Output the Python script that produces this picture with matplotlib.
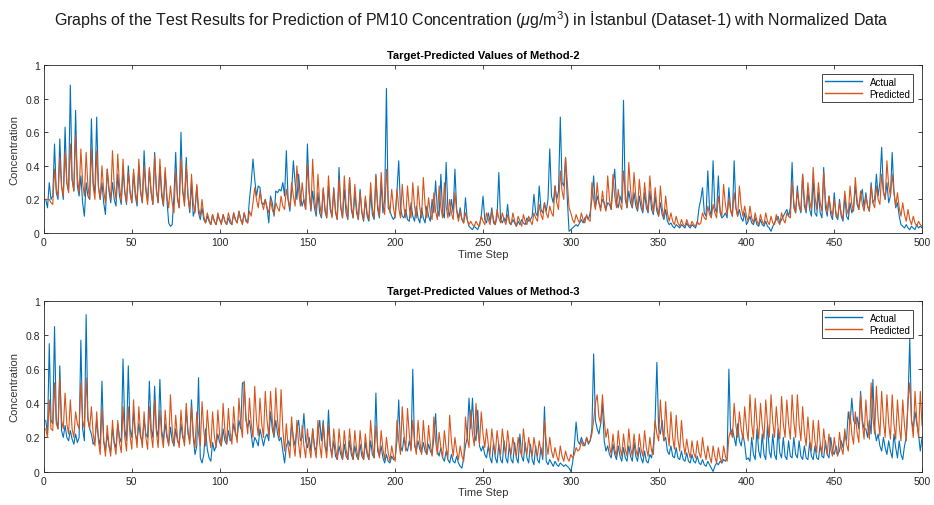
#import libraries

import numpy as np
import matplotlib
matplotlib.use('Agg')
import matplotlib.pyplot as plt

plt.rcParams['font.family'] = ['Liberation Sans', 'DejaVu Sans']
plt.rcParams['mathtext.fontset'] = 'custom'
plt.rcParams['mathtext.rm'] = 'Liberation Sans'
plt.rcParams['mathtext.it'] = 'Liberation Sans:italic'

#data (normalized concentration, in hundredths)

actual_m2 = np.array([
    20, 15, 30, 20, 22, 53, 24, 20, 56, 28, 20, 63, 30, 25, 88, 32, 25, 73, 28, 22, 34, 18, 10, 30, 22, 20, 68, 30, 24, 69,
    28, 20, 30, 18, 11, 38, 25, 18, 30, 20, 16, 35, 22, 17, 38, 24, 17, 40, 25, 18, 36, 22, 16, 40, 24, 18, 49, 27, 19, 38,
    24, 17, 48, 25, 18, 40, 22, 16, 36, 20, 6, 4, 5, 22, 48, 20, 15, 60, 25, 18, 45, 22, 12, 30, 10, 14, 28, 12, 8, 15,
    8, 6, 10, 7, 5, 11, 7, 5, 10, 8, 6, 11, 7, 5, 9, 6, 5, 12, 8, 6, 13, 8, 6, 12, 7, 6, 20, 30, 44, 32,
    22, 28, 27, 18, 17, 20, 15, 6, 22, 18, 10, 25, 24, 26, 25, 30, 22, 49, 20, 13, 25, 43, 30, 20, 35, 22, 16, 20, 14, 53,
    25, 13, 25, 15, 10, 24, 12, 9, 26, 13, 9, 28, 14, 10, 27, 12, 8, 39, 15, 9, 26, 12, 8, 33, 14, 9, 24, 12, 8, 26,
    12, 7, 20, 10, 7, 24, 11, 8, 35, 14, 9, 30, 12, 20, 86, 15, 13, 10, 8, 10, 25, 43, 15, 10, 9, 14, 8, 7, 18, 10,
    7, 16, 9, 6, 15, 9, 6, 16, 10, 7, 20, 12, 31, 14, 10, 35, 12, 9, 42, 14, 10, 20, 12, 38, 14, 9, 15, 8, 6, 21,
    8, 4, 3, 2, 4, 3, 2, 5, 10, 22, 8, 6, 12, 7, 15, 6, 5, 10, 36, 8, 6, 9, 7, 17, 6, 5, 8, 6, 4, 7,
    5, 8, 6, 5, 9, 7, 8, 10, 23, 12, 10, 28, 14, 12, 18, 13, 20, 50, 22, 18, 28, 20, 25, 69, 30, 28, 45, 20, 1, 2,
    3, 4, 5, 4, 6, 8, 6, 9, 10, 8, 12, 20, 34, 15, 22, 18, 15, 20, 18, 14, 18, 17, 14, 28, 38, 18, 15, 22, 18, 79,
    20, 15, 25, 18, 15, 24, 16, 13, 22, 15, 12, 24, 15, 12, 25, 14, 11, 22, 13, 10, 18, 11, 8, 14, 7, 5, 6, 4, 3, 5,
    4, 3, 5, 4, 3, 6, 4, 3, 5, 4, 3, 6, 15, 20, 27, 12, 10, 37, 14, 10, 43, 15, 12, 34, 12, 9, 10, 12, 9, 27,
    14, 10, 43, 15, 10, 14, 9, 7, 12, 5, 7, 10, 6, 5, 9, 5, 4, 8, 5, 4, 7, 4, 3, 1, 4, 6, 8, 10, 6, 8,
    10, 12, 14, 10, 15, 42, 15, 12, 28, 16, 12, 35, 16, 12, 25, 14, 10, 32, 12, 10, 24, 12, 9, 39, 15, 10, 22, 11, 8, 24,
    10, 8, 20, 10, 7, 22, 10, 8, 18, 12, 15, 28, 17, 14, 22, 26, 15, 24, 16, 13, 30, 18, 20, 35, 22, 30, 51, 25, 20, 30,
    18, 22, 48, 25, 15, 18, 10, 5, 4, 3, 5, 3, 2, 4, 3, 2, 5, 3, 4, 3,
]) / 100

predicted_m2 = np.array([
    20, 20, 20, 18, 17, 38, 26, 22, 45, 28, 22, 48, 30, 24, 53, 32, 25, 58, 33, 24, 50, 30, 22, 48, 28, 20, 50, 28, 20, 49,
    27, 20, 40, 25, 18, 38, 27, 20, 49, 28, 20, 47, 28, 19, 44, 25, 18, 36, 24, 18, 38, 25, 18, 44, 26, 18, 40, 25, 17, 39,
    25, 17, 46, 27, 18, 44, 25, 17, 39, 22, 15, 28, 18, 12, 37, 22, 15, 44, 25, 16, 40, 22, 14, 35, 18, 12, 29, 15, 10, 20,
    10, 6, 12, 8, 5, 11, 7, 5, 12, 8, 5, 11, 7, 5, 12, 8, 5, 12, 8, 6, 13, 8, 5, 12, 8, 6, 13, 10, 18, 27,
    20, 15, 25, 18, 14, 20, 15, 12, 20, 14, 11, 18, 15, 13, 22, 16, 14, 26, 20, 15, 30, 22, 16, 40, 25, 16, 30, 20, 14, 41,
    24, 14, 44, 22, 12, 35, 18, 10, 27, 15, 9, 34, 17, 9, 26, 14, 8, 32, 16, 9, 34, 17, 9, 33, 17, 9, 29, 15, 8, 24,
    13, 8, 22, 12, 8, 30, 15, 9, 34, 17, 10, 36, 18, 11, 38, 20, 12, 26, 15, 9, 26, 15, 9, 29, 15, 9, 28, 15, 9, 30,
    16, 9, 28, 15, 9, 33, 17, 9, 21, 12, 8, 24, 13, 8, 28, 15, 9, 30, 16, 9, 20, 12, 8, 24, 13, 7, 13, 8, 6, 12,
    8, 5, 7, 5, 4, 7, 5, 4, 10, 7, 5, 12, 8, 5, 13, 8, 5, 14, 9, 6, 12, 8, 5, 11, 7, 5, 12, 7, 4, 10,
    7, 4, 11, 7, 5, 10, 7, 5, 12, 9, 7, 17, 11, 8, 18, 12, 9, 16, 12, 10, 28, 18, 14, 37, 25, 20, 45, 30, 15, 12,
    8, 6, 11, 8, 6, 12, 8, 6, 11, 8, 7, 30, 20, 14, 30, 18, 13, 25, 17, 13, 34, 20, 14, 35, 22, 15, 26, 17, 14, 37,
    24, 15, 42, 26, 15, 36, 22, 14, 32, 20, 13, 30, 19, 13, 34, 20, 12, 27, 16, 10, 28, 15, 9, 22, 12, 7, 12, 7, 5, 10,
    6, 4, 8, 5, 4, 8, 5, 4, 7, 5, 4, 7, 5, 6, 12, 9, 8, 16, 11, 9, 17, 12, 9, 22, 14, 10, 29, 17, 11, 20,
    13, 10, 24, 15, 10, 28, 16, 10, 16, 10, 7, 16, 9, 6, 12, 7, 5, 11, 7, 5, 12, 7, 5, 10, 6, 5, 11, 7, 5, 12,
    8, 6, 12, 10, 9, 30, 18, 12, 25, 17, 13, 35, 20, 13, 30, 19, 14, 39, 22, 14, 30, 18, 13, 36, 20, 12, 22, 14, 10, 20,
    12, 9, 18, 11, 9, 25, 15, 11, 28, 17, 13, 33, 20, 14, 25, 17, 13, 22, 16, 13, 28, 18, 15, 28, 20, 17, 35, 24, 20, 43,
    28, 22, 35, 24, 16, 24, 15, 10, 18, 11, 7, 14, 8, 5, 10, 6, 4, 7, 5, 4,
]) / 100

actual_m3 = np.array([
    30, 22, 75, 30, 28, 85, 30, 25, 62, 24, 20, 27, 20, 18, 24, 19, 16, 22, 17, 20, 77, 25, 18, 92, 30, 25, 22, 16, 18, 30,
    20, 15, 53, 18, 12, 22, 15, 12, 25, 17, 14, 28, 20, 17, 66, 25, 18, 62, 25, 20, 35, 22, 18, 28, 20, 18, 30, 22, 20, 53,
    25, 20, 50, 25, 20, 54, 24, 18, 28, 20, 16, 26, 18, 15, 25, 18, 16, 28, 20, 17, 36, 22, 18, 42, 20, 10, 15, 55, 8, 5,
    10, 25, 13, 8, 6, 17, 12, 15, 22, 17, 15, 25, 18, 16, 24, 18, 20, 28, 22, 20, 30, 25, 52, 52, 30, 26, 30, 22, 14, 20,
    18, 15, 25, 20, 15, 20, 22, 18, 35, 25, 20, 30, 22, 18, 20, 12, 5, 15, 18, 15, 28, 20, 15, 25, 30, 18, 20, 34, 18, 14,
    20, 12, 25, 15, 12, 22, 30, 18, 30, 15, 12, 36, 15, 10, 18, 9, 7, 15, 10, 7, 16, 9, 7, 18, 10, 7, 15, 9, 7, 16,
    9, 7, 17, 10, 7, 18, 10, 8, 46, 12, 9, 15, 8, 5, 10, 6, 5, 9, 7, 8, 18, 42, 15, 12, 20, 14, 12, 18, 13, 60,
    15, 12, 18, 13, 11, 17, 12, 10, 16, 12, 10, 20, 34, 12, 9, 14, 8, 6, 12, 7, 5, 10, 6, 5, 9, 5, 3, 2, 8, 15,
    20, 43, 25, 43, 22, 18, 36, 15, 12, 15, 10, 8, 15, 8, 5, 17, 8, 5, 16, 7, 5, 18, 8, 5, 16, 7, 5, 17, 8, 5,
    22, 9, 6, 17, 8, 5, 16, 7, 4, 15, 7, 5, 14, 7, 38, 6, 4, 7, 5, 3, 6, 4, 3, 5, 4, 3, 4, 3, 2, 0,
    5, 15, 29, 18, 16, 20, 17, 15, 20, 16, 18, 25, 69, 30, 25, 22, 28, 40, 18, 12, 15, 10, 8, 16, 10, 7, 15, 9, 6, 14,
    8, 6, 15, 9, 6, 17, 9, 6, 14, 8, 5, 12, 6, 5, 10, 8, 15, 30, 64, 25, 22, 30, 18, 20, 12, 10, 15, 9, 8, 14,
    8, 7, 12, 7, 6, 11, 6, 5, 10, 6, 5, 9, 5, 4, 7, 4, 3, 6, 4, 2, 0, 3, 5, 4, 6, 5, 7, 6, 8, 60,
    22, 25, 20, 15, 28, 18, 15, 22, 16, 7, 8, 6, 20, 10, 7, 25, 12, 8, 22, 10, 7, 28, 12, 8, 22, 10, 7, 25, 11, 8,
    20, 9, 7, 18, 9, 8, 20, 10, 8, 18, 9, 7, 15, 8, 7, 17, 9, 7, 15, 8, 7, 16, 9, 8, 18, 10, 8, 20, 12, 10,
    15, 10, 12, 18, 14, 22, 18, 35, 28, 43, 30, 28, 32, 25, 47, 30, 25, 25, 20, 30, 22, 54, 25, 18, 22, 15, 12, 20, 14, 10,
    18, 12, 8, 22, 14, 8, 18, 10, 7, 15, 20, 40, 78, 30, 25, 35, 28, 22, 12, 20,
]) / 100

predicted_m3 = np.array([
    25, 20, 42, 25, 24, 52, 28, 25, 55, 30, 25, 46, 28, 22, 42, 25, 20, 35, 28, 25, 52, 30, 25, 55, 32, 25, 38, 22, 15, 35,
    18, 10, 37, 18, 9, 27, 15, 9, 30, 16, 10, 30, 17, 11, 38, 20, 12, 38, 21, 13, 42, 23, 14, 38, 22, 14, 35, 20, 13, 38,
    22, 14, 42, 23, 14, 36, 21, 14, 36, 22, 15, 45, 25, 15, 33, 20, 14, 36, 22, 15, 40, 24, 16, 38, 22, 14, 35, 22, 15, 41,
    24, 15, 36, 22, 14, 35, 21, 14, 36, 22, 15, 40, 24, 16, 37, 23, 16, 38, 24, 17, 43, 28, 20, 53, 32, 22, 43, 28, 20, 50,
    30, 21, 43, 28, 20, 47, 30, 21, 47, 30, 21, 49, 30, 20, 48, 25, 12, 28, 15, 8, 32, 17, 9, 30, 16, 8, 27, 15, 8, 25,
    14, 8, 25, 14, 8, 30, 16, 8, 28, 15, 8, 27, 15, 8, 25, 14, 7, 25, 14, 7, 24, 13, 7, 25, 14, 7, 24, 13, 7, 24,
    13, 7, 22, 12, 7, 30, 16, 8, 27, 15, 8, 24, 13, 7, 20, 11, 6, 15, 9, 6, 30, 18, 10, 38, 22, 12, 37, 22, 12, 30,
    18, 10, 30, 18, 10, 30, 17, 10, 27, 16, 9, 32, 18, 10, 23, 14, 8, 24, 14, 8, 33, 18, 9, 20, 12, 7, 15, 9, 6, 32,
    20, 14, 36, 22, 15, 40, 24, 16, 35, 22, 14, 25, 16, 10, 25, 16, 10, 24, 15, 10, 25, 16, 10, 24, 15, 10, 20, 13, 9, 20,
    13, 9, 25, 15, 10, 20, 13, 9, 20, 13, 9, 18, 12, 9, 30, 17, 10, 20, 12, 8, 14, 9, 6, 15, 9, 6, 12, 8, 6, 10,
    8, 10, 14, 12, 13, 18, 15, 16, 20, 17, 18, 22, 30, 40, 45, 32, 28, 45, 30, 20, 25, 15, 10, 22, 13, 9, 24, 14, 9, 22,
    13, 9, 25, 14, 9, 22, 13, 9, 22, 13, 9, 24, 14, 9, 20, 12, 10, 30, 22, 18, 42, 26, 18, 41, 24, 15, 35, 20, 13, 33,
    19, 12, 30, 17, 10, 19, 12, 8, 18, 11, 8, 18, 11, 8, 20, 12, 7, 15, 9, 5, 15, 9, 5, 14, 8, 5, 15, 9, 6, 20,
    24, 20, 40, 27, 20, 35, 25, 19, 38, 26, 18, 45, 28, 19, 43, 28, 19, 40, 27, 19, 42, 28, 20, 45, 29, 20, 38, 26, 19, 44,
    28, 20, 42, 28, 19, 45, 29, 20, 45, 28, 18, 38, 23, 15, 32, 19, 12, 30, 18, 11, 30, 17, 10, 25, 15, 10, 22, 13, 9, 20,
    12, 9, 23, 14, 10, 25, 16, 12, 35, 22, 16, 35, 23, 17, 45, 28, 19, 42, 27, 19, 52, 32, 22, 50, 31, 21, 47, 30, 20, 45,
    28, 19, 45, 28, 19, 42, 27, 18, 42, 27, 18, 42, 52, 30, 20, 47, 30, 20, 47, 27,
]) / 100

time_step = np.arange(1, len(actual_m2) + 1)

panel_titles = ['Target-Predicted Values of Method-2', 'Target-Predicted Values of Method-3']
x_ticks = np.arange(0, 501, 50)
y_ticks = [0, 0.2, 0.4, 0.6, 0.8, 1]
y_tick_labels = ['0', '0.2', '0.4', '0.6', '0.8', '1']

#create the figure

fig = plt.figure(figsize=(9.34, 5.06), dpi=100)
fig.text(0.505, 0.961,
         r'Graphs of the Test Results for Prediction of PM10 Concentration ($\mu$g/m$^3$) in İstanbul (Dataset-1) with Normalized Data',
         ha='center', va='center', fontsize=11.5, color='#1a1a1a')

ax1 = fig.add_axes([0.0471, 0.5375, 0.9401, 0.3321])
ax2 = fig.add_axes([0.0471, 0.0662, 0.9401, 0.3370])

#plot each panel

for ax, actual, predicted, title in zip([ax1, ax2], [actual_m2, actual_m3],
                                        [predicted_m2, predicted_m3], panel_titles):
    ax.plot(time_step, actual, color='#0072BD', lw=0.8, label='Actual')
    ax.plot(time_step, predicted, color='#D95319', lw=0.8, label='Predicted')
    ax.set_xlim(0, 500)
    ax.set_ylim(0, 1)
    ax.set_xticks(x_ticks)
    ax.set_yticks(y_ticks)
    ax.set_yticklabels(y_tick_labels)
    ax.tick_params(direction='in', top=True, right=True, length=3, width=0.6,
                   labelsize=7.5, colors='#262626', pad=3)
    for sp in ax.spines.values():
        sp.set_color('#262626')
        sp.set_linewidth(0.6)
    ax.set_title(title, fontsize=8, fontweight='bold', pad=5)
    ax.set_xlabel('Time Step', fontsize=8, labelpad=1, color='#333333')
    ax.set_ylabel('Concentration', fontsize=8, labelpad=4, color='#333333')
    leg = ax.legend(loc='upper right', fontsize=7, frameon=True, fancybox=False,
                    framealpha=1, edgecolor='#262626', handlelength=3.8,
                    borderpad=0.3, labelspacing=0.2, borderaxespad=0.9)
    leg.get_frame().set_linewidth(0.6)
    for line in leg.get_lines():
        line.set_linewidth(1.0)

plt.savefig('out.png', dpi=100, facecolor='white')
